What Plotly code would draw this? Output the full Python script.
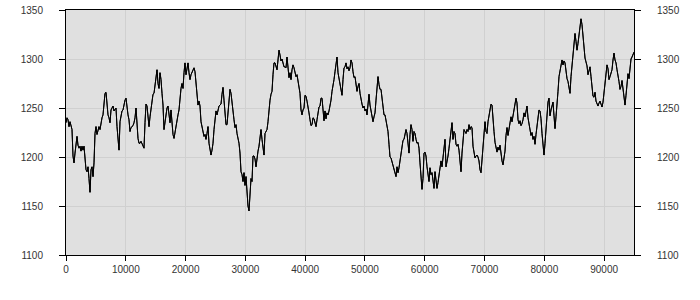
import numpy as np
import plotly.graph_objects as go

seg1 = [1235,1240,1238,1231,1236,1233,1228,1201,1194,1204,1212,1221,1212,1209,1211,1206,1211,1207,1211,1201,
        1187,1185,1190,1178,1164,1187,1190,1180,1194,1224,1231,1223,1228,1231,1228,1236,1240,1243,1255,1265,
        1266,1248,1243,1240,1235,1248,1250,1252,1247,1249,1250,1231,1214,1207,1236,1243,1247,1248,1255,1258,
        1260,1248,1243,1238,1226,1230,1231,1232,1235,1240,1250,1228,1219,1214,1214,1216,1214,1211,1209,1235,
        1254,1252,1241,1231,1241,1248,1258,1264,1265,1272,1282,1289,1275,1270,1286]
seg2 = [1279,1265,1253,1228,1235,1245,1250,1252,1240,1235,1248,1231,1223,1219,1226,1233,1238,1243,1248,1262,
        1270,1275,1270,1286,1296,1284,1292,1296,1286,1279,1284,1287,1289,1291,1287,1272,1257,1253,1257,1252,
        1236,1230,1224,1221,1223,1218,1224,1231,1214,1206,1202,1207,1214,1228,1241,1247,1243,1248,1252,1253,
        1254,1264,1271,1258,1241,1233,1233,1248,1264,1269,1265,1253,1247,1238,1230,1233,1224,1219,1214,1204,
        1185,1182,1175,1184,1171,1180,1160,1150,1145,1167,1178,1175,1201,1201,1198]
seg3 = [1190,1202,1206,1211,1221,1228,1218,1212,1202,1224,1226,1228,1236,1252,1258,1264,1267,1284,1296,1296,
        1292,1289,1299,1309,1304,1298,1300,1296,1292,1292,1291,1302,1292,1281,1286,1279,1289,1294,1291,1287,
        1282,1284,1277,1272,1265,1248,1243,1248,1250,1263,1262,1257,1252,1245,1238,1232,1233,1240,1239,1236,
        1231,1238,1247,1251,1252,1260,1260,1245,1237,1247,1239,1245,1243,1247,1251,1258,1267,1272,1279,1287,
        1298,1302,1286,1279,1272,1267,1263,1279,1291,1292,1296,1290,1292,1288,1291]
seg4 = [1299,1296,1287,1281,1282,1276,1267,1272,1275,1265,1258,1254,1250,1252,1247,1249,1243,1252,1264,1253,
        1247,1238,1236,1241,1245,1258,1272,1282,1274,1269,1269,1260,1253,1243,1243,1238,1230,1226,1213,1200,
        1199,1195,1191,1189,1185,1180,1190,1184,1189,1196,1204,1214,1217,1218,1223,1228,1224,1213,1204,1223,
        1233,1228,1216,1226,1224,1218,1214,1215,1209,1194,1184,1167,1178,1204,1205,1201,1190,1183,1175,1189,
        1182,1184,1178,1168,1185,1177,1168,1174,1182,1194,1196,1190,1198,1206,1218]
seg5 = [1190,1194,1201,1209,1218,1228,1235,1218,1226,1224,1213,1211,1213,1207,1199,1185,1204,1219,1228,1226,
        1224,1228,1226,1233,1228,1231,1230,1211,1202,1199,1201,1202,1200,1196,1187,1184,1197,1213,1228,1236,
        1226,1224,1236,1243,1251,1254,1253,1243,1226,1215,1211,1205,1210,1207,1212,1203,1196,1192,1201,1206,
        1222,1230,1222,1229,1236,1241,1236,1242,1250,1258,1260,1255,1238,1234,1237,1232,1234,1238,1245,1241,
        1245,1252,1240,1232,1228,1222,1225,1218,1221,1213,1223,1233,1241,1248,1247]
seg6 = [1239,1224,1214,1202,1214,1231,1245,1256,1260,1242,1248,1251,1256,1242,1229,1241,1251,1267,1282,1289,
        1295,1299,1294,1298,1296,1287,1280,1277,1272,1265,1282,1292,1304,1319,1326,1318,1309,1316,1324,1331,
        1341,1335,1323,1313,1301,1297,1293,1284,1288,1292,1282,1271,1262,1261,1266,1257,1255,1252,1255,1257,
        1254,1251,1256,1267,1272,1282,1294,1290,1279,1282,1285,1289,1299,1306,1299,1296,1289,1284,1277,1269,
        1272,1278,1268,1265,1253,1263,1277,1285,1280,1289,1300,1302,1305,1307]

values = seg1 + seg2 + seg3 + seg4 + seg5 + seg6
x_end = 95000
x_vals = np.linspace(0, x_end, len(values))

x_ticks = [0, 10000, 20000, 30000, 40000, 50000, 60000, 70000, 80000, 90000]
y_ticks = [1100, 1150, 1200, 1250, 1300, 1350]

font = dict(family="Liberation Sans, Arial, sans-serif", size=10, color="#333333")

fig = go.Figure()
fig.add_trace(go.Scatter(x=x_vals, y=values, mode="lines",
                         line=dict(color="#000000", width=1), showlegend=False))
fig.add_trace(go.Scatter(x=x_vals, y=values, mode="lines", yaxis="y2",
                         line=dict(color="#000000", width=1), showlegend=False))

fig.update_layout(
    width=700, height=300,
    margin=dict(l=66, r=66, t=10, b=45, pad=0),
    paper_bgcolor="#ffffff",
    plot_bgcolor="#e0e0e0",
    font=font,
    xaxis=dict(range=[0, x_end], tickvals=x_ticks, ticktext=[str(v) for v in x_ticks],
               showgrid=True, gridcolor="#d0d0d0", gridwidth=1, zeroline=False,
               showline=True, linecolor="#000000", linewidth=1, mirror=True,
               ticks="outside", ticklen=5, tickcolor="#000000", tickfont=font,
               automargin=False),
    yaxis=dict(range=[1100, 1350], tickvals=y_ticks, showgrid=True, gridcolor="#d0d0d0",
               gridwidth=1, zeroline=False, showline=True, linecolor="#000000", linewidth=1,
               ticks="outside", ticklen=6, tickcolor="#000000", tickfont=font,
               ticklabelstandoff=14, automargin=False),
    yaxis2=dict(range=[1100, 1350], tickvals=y_ticks, overlaying="y", side="right",
                showgrid=False, zeroline=False, showline=True, linecolor="#000000", linewidth=1,
                ticks="outside", ticklen=6, tickcolor="#000000", tickfont=font,
                ticklabelstandoff=14, automargin=False),
)

fig.write_html("out.html")
